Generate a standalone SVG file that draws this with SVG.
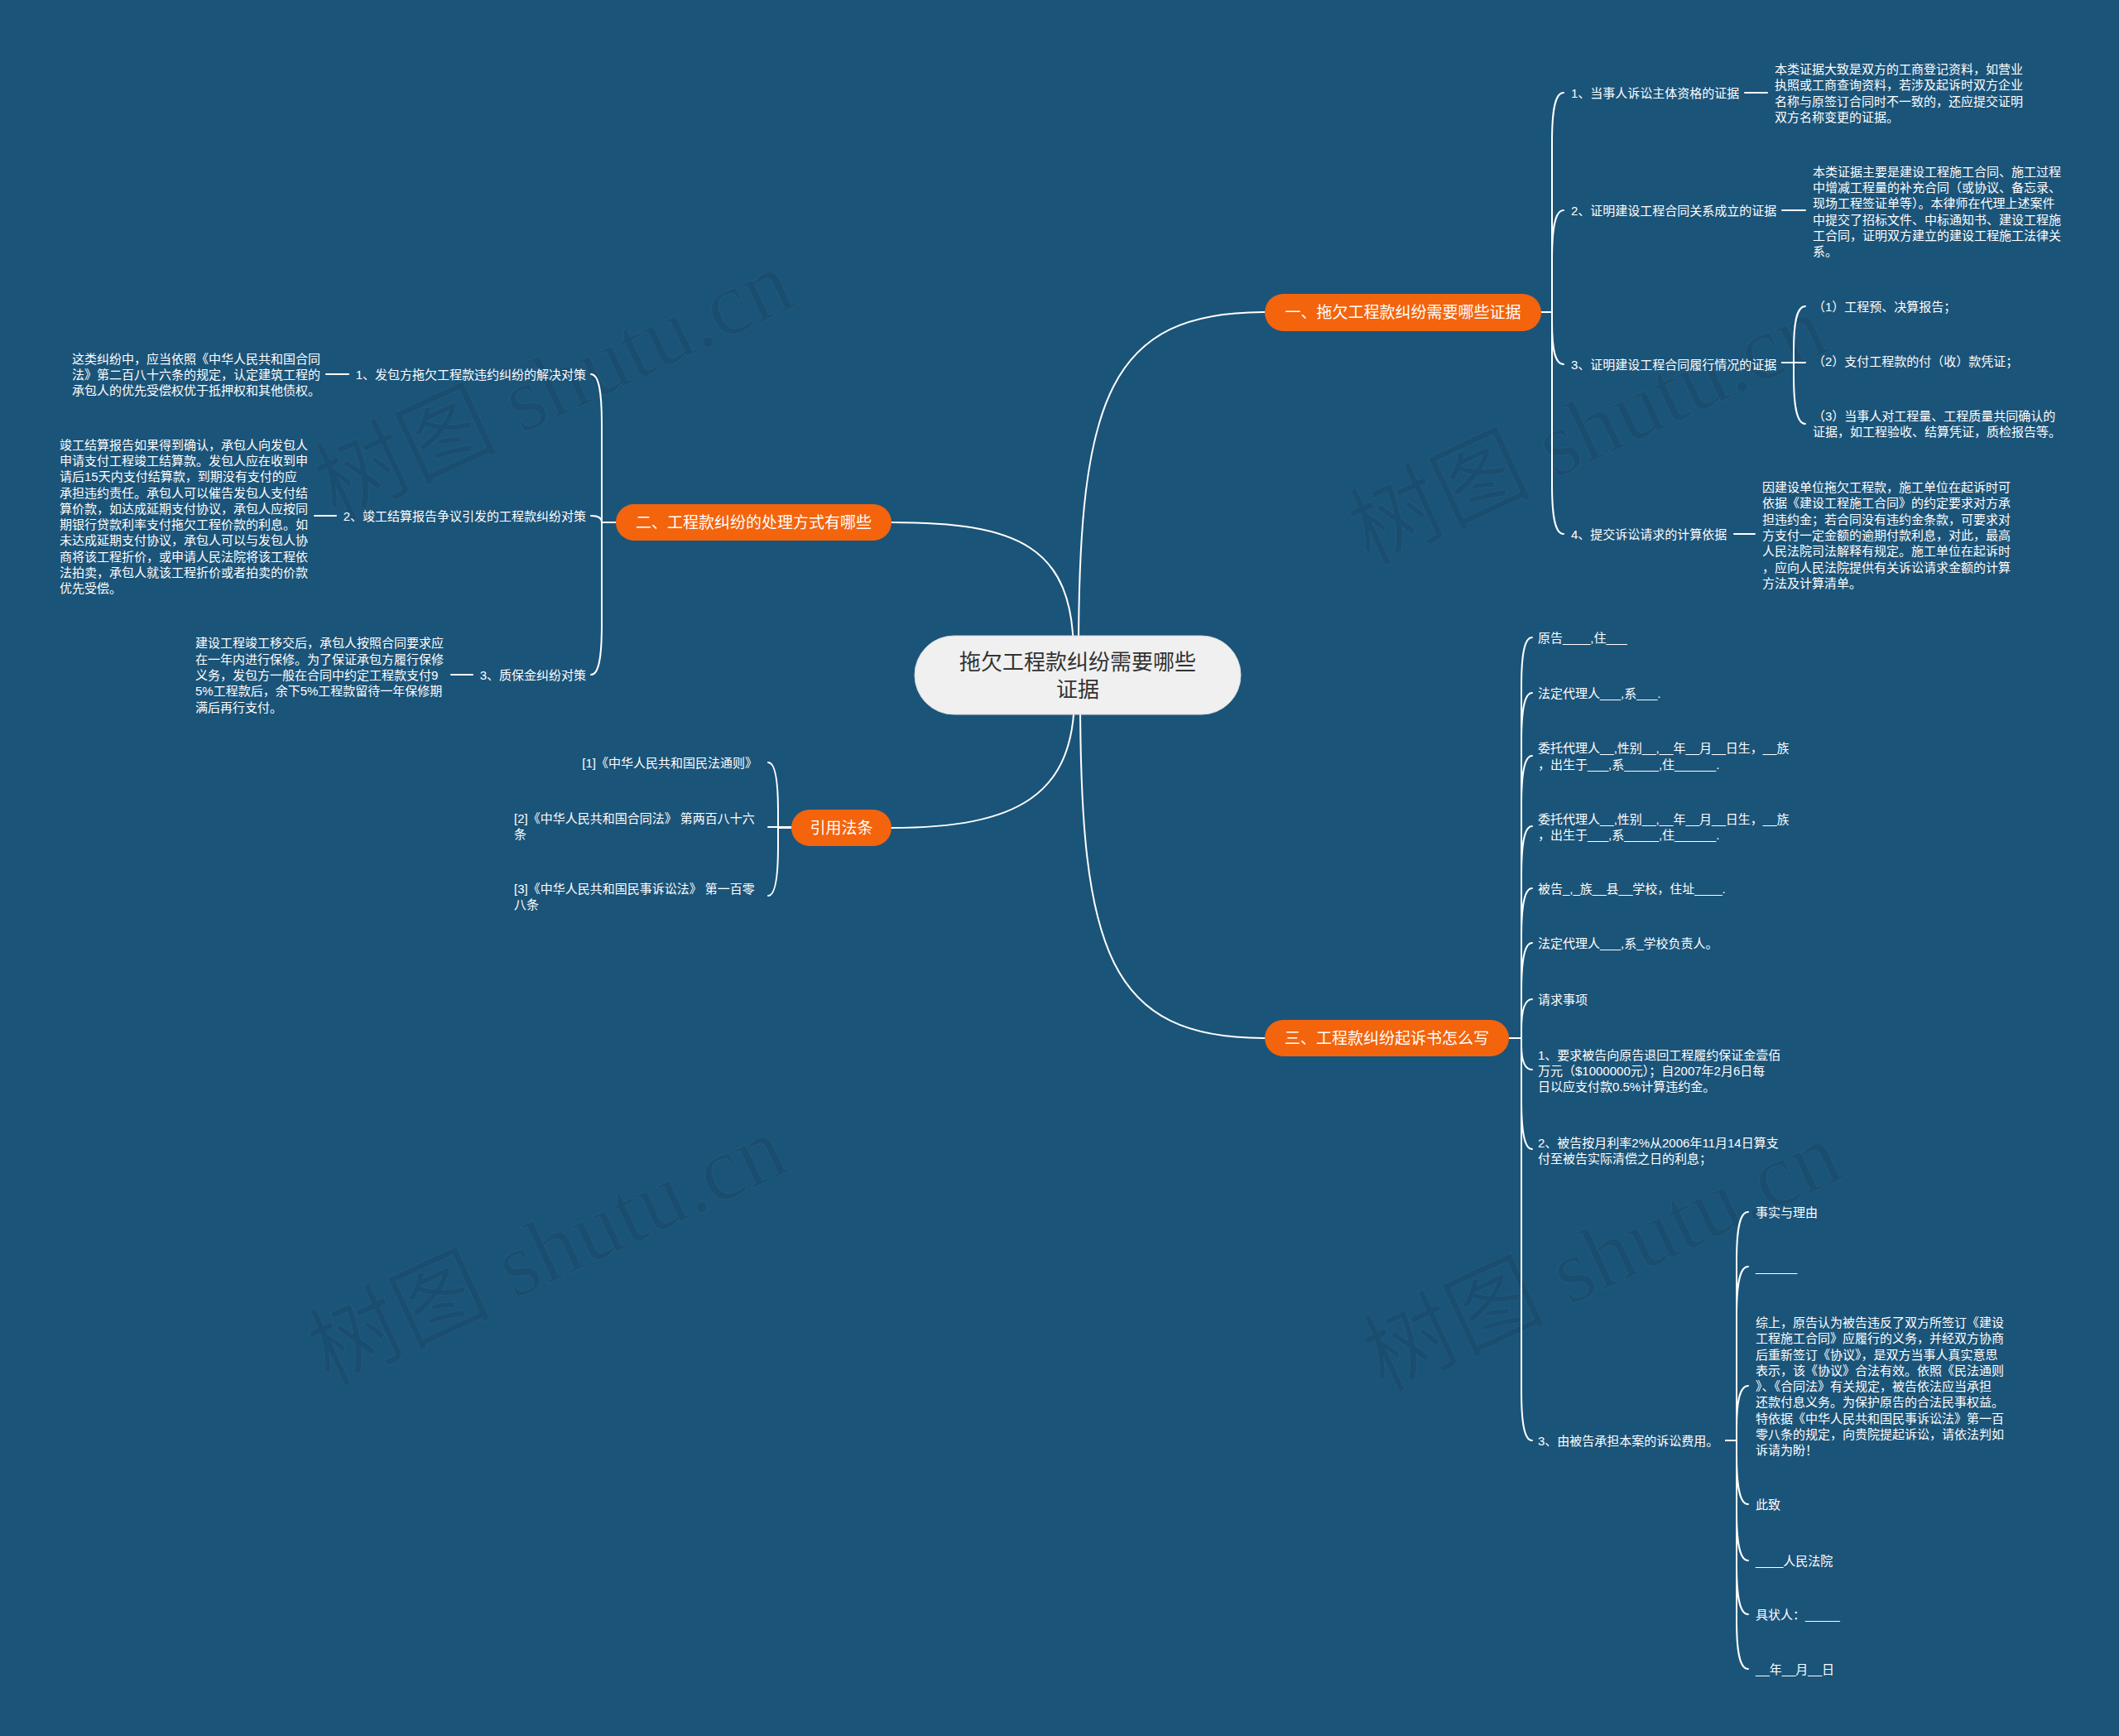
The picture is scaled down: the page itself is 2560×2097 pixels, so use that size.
<svg xmlns="http://www.w3.org/2000/svg" width="2560" height="2097" viewBox="0 0 2560 2097">
<style>
.ln{fill:none;stroke:#ffffff;stroke-width:2;stroke-linecap:round}
.t{font-family:"Liberation Sans","Noto Sans CJK SC",sans-serif;font-size:15px;fill:#ffffff;dominant-baseline:central}
.e{text-anchor:end}
.on{fill:#f3640d}
.ot{font-family:"Liberation Sans","Noto Sans CJK SC",sans-serif;font-size:19px;fill:#ffffff;text-anchor:middle;dominant-baseline:central}
.ct{font-family:"Liberation Sans","Noto Sans CJK SC",sans-serif;font-size:26px;fill:#333333;text-anchor:middle;dominant-baseline:central}
.wm{font-family:"Liberation Serif","Noto Sans CJK SC",serif;font-size:110px;fill:#000000;fill-opacity:0.065;stroke:#ffffff;stroke-opacity:0.045;stroke-width:1;text-anchor:middle;dominant-baseline:central}
</style>
<rect x="0" y="0" width="2560" height="2097" fill="#1b5479"/>
<g id="watermarks">
<text class="wm" x="669" y="465" transform="rotate(-25 669 465)">树图 shutu.cn</text>
<text class="wm" x="1918" y="519" transform="rotate(-25 1918 519)">树图 shutu.cn</text>
<text class="wm" x="661" y="1510" transform="rotate(-25 661 1510)">树图 shutu.cn</text>
<text class="wm" x="1935" y="1518" transform="rotate(-25 1935 1518)">树图 shutu.cn</text>
</g>
<g id="connectors">
<path class="ln" d="M1303,790 C1303,480 1340,377 1528,377"/>
<path class="ln" d="M1297,790 C1297,660 1230,631 1077,631"/>
<path class="ln" d="M1298,840 C1298,960 1230,1000 1077,1000"/>
<path class="ln" d="M1305,840 C1305,1150 1340,1254 1528,1254"/>
<path class="ln" d="M1862,377 H1875 V172 C1875,136 1878,112 1889,112"/>
<path class="ln" d="M1862,377 H1875 V314 C1875,278 1878,254 1889,254"/>
<path class="ln" d="M1862,377 H1875 V390 C1875,420 1878,440 1889,440"/>
<path class="ln" d="M1862,377 H1875 V585 C1875,621 1878,645 1889,645"/>
<path class="ln" d="M2108,112 H2135"/>
<path class="ln" d="M2153,254 H2181"/>
<path class="ln" d="M2095,645 H2120"/>
<path class="ln" d="M2153,438 H2167 V424 C2167,392 2170,370 2181,370"/>
<path class="ln" d="M2153,438 H2181"/>
<path class="ln" d="M2153,438 H2167 V453 C2167,488 2170,512 2181,512"/>
<path class="ln" d="M744,631 H727 V512 C727,476 724,452 714,452"/>
<path class="ln" d="M744,631 H727 C727,626 724,623 714,623"/>
<path class="ln" d="M744,631 H727 V755 C727,791 724,815 714,815"/>
<path class="ln" d="M394,452 H421"/>
<path class="ln" d="M380,623 H406"/>
<path class="ln" d="M545,815 H571"/>
<path class="ln" d="M956,1000 H940 V980 C940,944 937,921 928,921"/>
<path class="ln" d="M956,999 H928"/>
<path class="ln" d="M956,1000 H940 V1022 C940,1058 937,1082 928,1082"/>
<path class="ln" d="M1823,1254 H1838 V830 C1838,794 1841,770 1851,770"/>
<path class="ln" d="M1823,1254 H1838 V897 C1838,861 1841,837 1851,837"/>
<path class="ln" d="M1823,1254 H1838 V973 C1838,937 1841,913 1851,913"/>
<path class="ln" d="M1823,1254 H1838 V1058 C1838,1022 1841,998 1851,998"/>
<path class="ln" d="M1823,1254 H1838 V1133 C1838,1097 1841,1073 1851,1073"/>
<path class="ln" d="M1823,1254 H1838 V1199 C1838,1163 1841,1139 1851,1139"/>
<path class="ln" d="M1823,1254 H1838 V1244 C1838,1222 1841,1207 1851,1207"/>
<path class="ln" d="M1823,1254 H1838 V1262 C1838,1280 1841,1292 1851,1292"/>
<path class="ln" d="M1823,1254 H1838 V1328 C1838,1364 1841,1388 1851,1388"/>
<path class="ln" d="M1823,1254 H1838 V1680 C1838,1716 1841,1740 1851,1740"/>
<path class="ln" d="M2085,1740 H2098 V1524 C2098,1488 2101,1464 2112,1464"/>
<path class="ln" d="M2085,1740 H2098 V1590 C2098,1554 2101,1530 2112,1530"/>
<path class="ln" d="M2085,1740 H2098 V1726 C2098,1696 2101,1674 2112,1674"/>
<path class="ln" d="M2085,1740 H2098 V1757 C2098,1793 2101,1817 2112,1817"/>
<path class="ln" d="M2085,1740 H2098 V1825 C2098,1861 2101,1885 2112,1885"/>
<path class="ln" d="M2085,1740 H2098 V1890 C2098,1926 2101,1950 2112,1950"/>
<path class="ln" d="M2085,1740 H2098 V1956 C2098,1992 2101,2016 2112,2016"/>
</g>
<g id="center">
<rect x="1105" y="768" width="394" height="95" rx="47.5" fill="#f0f0f0" stroke="#d8d8d8" stroke-width="1"/>
<text class="ct" x="1302" y="800">拖欠工程款纠纷需要哪些</text>
<text class="ct" x="1302" y="833">证据</text>
</g>
<g id="n1">
<rect class="on" x="1528" y="355" width="334" height="45" rx="22.5"/>
<text class="ot" x="1695" y="377">一、拖欠工程款纠纷需要哪些证据</text>
</g>
<g id="n2">
<rect class="on" x="744" y="609" width="333" height="44" rx="22"/>
<text class="ot" x="910.5" y="631">二、工程款纠纷的处理方式有哪些</text>
</g>
<g id="n3">
<rect class="on" x="1528" y="1232" width="295" height="44" rx="22"/>
<text class="ot" x="1675.5" y="1254">三、工程款纠纷起诉书怎么写</text>
</g>
<g id="n4">
<rect class="on" x="956" y="978" width="121" height="44" rx="22"/>
<text class="ot" x="1016.5" y="1000">引用法条</text>
</g>
<g id="b1">
<text class="t" x="1898" y="112">1、当事人诉讼主体资格的证据</text>
<text class="t" x="2144"><tspan x="2144" y="83">本类证据大致是双方的工商登记资料，如营业</tspan><tspan x="2144" y="102.3">执照或工商查询资料，若涉及起诉时双方企业</tspan><tspan x="2144" y="121.6">名称与原签订合同时不一致的，还应提交证明</tspan><tspan x="2144" y="141">双方名称变更的证据。</tspan></text>
<text class="t" x="1898" y="254">2、证明建设工程合同关系成立的证据</text>
<text class="t" x="2190"><tspan x="2190" y="206.7">本类证据主要是建设工程施工合同、施工过程</tspan><tspan x="2190" y="226">中增减工程量的补充合同（或协议、备忘录、</tspan><tspan x="2190" y="245.3">现场工程签证单等）。本律师在代理上述案件</tspan><tspan x="2190" y="264.6">中提交了招标文件、中标通知书、建设工程施</tspan><tspan x="2190" y="283.9">工合同，证明双方建立的建设工程施工法律关</tspan><tspan x="2190" y="303.2">系。</tspan></text>
<text class="t" x="1898" y="440">3、证明建设工程合同履行情况的证据</text>
<text class="t" x="2190" y="370">（1）工程预、决算报告；</text>
<text class="t" x="2190" y="436">（2）支付工程款的付（收）款凭证；</text>
<text class="t" x="2190"><tspan x="2190" y="502">（3）当事人对工程量、工程质量共同确认的</tspan><tspan x="2190" y="521.3">证据，如工程验收、结算凭证，质检报告等。</tspan></text>
<text class="t" x="1898" y="645">4、提交诉讼请求的计算依据</text>
<text class="t" x="2129"><tspan x="2129" y="588.1">因建设单位拖欠工程款，施工单位在起诉时可</tspan><tspan x="2129" y="607.4">依据《建设工程施工合同》的约定要求对方承</tspan><tspan x="2129" y="626.7">担违约金；若合同没有违约金条款，可要求对</tspan><tspan x="2129" y="646">方支付一定金额的逾期付款利息，对此，最高</tspan><tspan x="2129" y="665.3">人民法院司法解释有规定。施工单位在起诉时</tspan><tspan x="2129" y="684.6">，应向人民法院提供有关诉讼请求金额的计算</tspan><tspan x="2129" y="703.9">方法及计算清单。</tspan></text>
</g>
<g id="b2">
<text class="t e" x="708" y="452">1、发包方拖欠工程款违约纠纷的解决对策</text>
<text class="t" x="87"><tspan x="87" y="432.7">这类纠纷中，应当依照《中华人民共和国合同</tspan><tspan x="87" y="452">法》第二百八十六条的规定，认定建筑工程的</tspan><tspan x="87" y="471.3">承包人的优先受偿权优于抵押权和其他债权。</tspan></text>
<text class="t e" x="708" y="623">2、竣工结算报告争议引发的工程款纠纷对策</text>
<text class="t" x="72"><tspan x="72" y="536.6">竣工结算报告如果得到确认，承包人向发包人</tspan><tspan x="72" y="555.9">申请支付工程竣工结算款。发包人应在收到申</tspan><tspan x="72" y="575.2">请后15天内支付结算款，到期没有支付的应</tspan><tspan x="72" y="594.5">承担违约责任。承包人可以催告发包人支付结</tspan><tspan x="72" y="613.8">算价款，如达成延期支付协议，承包人应按同</tspan><tspan x="72" y="633.1">期银行贷款利率支付拖欠工程价款的利息。如</tspan><tspan x="72" y="652.4">未达成延期支付协议，承包人可以与发包人协</tspan><tspan x="72" y="671.7">商将该工程折价，或申请人民法院将该工程依</tspan><tspan x="72" y="691">法拍卖，承包人就该工程折价或者拍卖的价款</tspan><tspan x="72" y="710.3">优先受偿。</tspan></text>
<text class="t e" x="708" y="815">3、质保金纠纷对策</text>
<text class="t" x="236"><tspan x="236" y="776.4">建设工程竣工移交后，承包人按照合同要求应</tspan><tspan x="236" y="795.7">在一年内进行保修。为了保证承包方履行保修</tspan><tspan x="236" y="815">义务，发包方一般在合同中约定工程款支付9</tspan><tspan x="236" y="834.3">5%工程款后，余下5%工程款留待一年保修期</tspan><tspan x="236" y="853.6">满后再行支付。</tspan></text>
</g>
<g id="b4">
<text class="t e" x="915" y="921">[1]《中华人民共和国民法通则》</text>
<text class="t" x="621"><tspan x="621" y="988">[2]《中华人民共和国合同法》 第两百八十六</tspan><tspan x="621" y="1007">条</tspan></text>
<text class="t" x="621"><tspan x="621" y="1073">[3]《中华人民共和国民事诉讼法》 第一百零</tspan><tspan x="621" y="1092">八条</tspan></text>
</g>
<g id="b3">
<text class="t" x="1858" y="770">原告____,住___</text>
<text class="t" x="1858" y="837">法定代理人___,系___.</text>
<text class="t" x="1858"><tspan x="1858" y="903.3">委托代理人__,性别__,__年__月__日生，__族</tspan><tspan x="1858" y="922.6">，出生于___,系_____,住______.</tspan></text>
<text class="t" x="1858"><tspan x="1858" y="988.8">委托代理人__,性别__,__年__月__日生，__族</tspan><tspan x="1858" y="1008.1">，出生于___,系_____,住______.</tspan></text>
<text class="t" x="1858" y="1073">被告_,_族__县__学校，住址____.</text>
<text class="t" x="1858" y="1139">法定代理人___,系_学校负责人。</text>
<text class="t" x="1858" y="1207">请求事项</text>
<text class="t" x="1858"><tspan x="1858" y="1273.7">1、要求被告向原告退回工程履约保证金壹佰</tspan><tspan x="1858" y="1293">万元（$1000000元）；自2007年2月6日每</tspan><tspan x="1858" y="1312.3">日以应支付款0.5%计算违约金。</tspan></text>
<text class="t" x="1858"><tspan x="1858" y="1379.8">2、被告按月利率2%从2006年11月14日算支</tspan><tspan x="1858" y="1399.1">付至被告实际清偿之日的利息；</tspan></text>
<text class="t" x="1858" y="1740">3、由被告承担本案的诉讼费用。</text>
<text class="t" x="2121" y="1464">事实与理由</text>
<text class="t" x="2121" y="1530">______</text>
<text class="t" x="2121"><tspan x="2121" y="1597">综上，原告认为被告违反了双方所签订《建设</tspan><tspan x="2121" y="1616.2">工程施工合同》应履行的义务，并经双方协商</tspan><tspan x="2121" y="1635.5">后重新签订《协议》，是双方当事人真实意思</tspan><tspan x="2121" y="1654.7">表示，该《协议》合法有效。依照《民法通则</tspan><tspan x="2121" y="1674">》、《合同法》有关规定，被告依法应当承担</tspan><tspan x="2121" y="1693.2">还款付息义务。为保护原告的合法民事权益。</tspan><tspan x="2121" y="1712.5">特依据《中华人民共和国民事诉讼法》第一百</tspan><tspan x="2121" y="1731.7">零八条的规定，向贵院提起诉讼，请依法判如</tspan><tspan x="2121" y="1751">诉请为盼！</tspan></text>
<text class="t" x="2121" y="1817">此致</text>
<text class="t" x="2121" y="1885">____人民法院</text>
<text class="t" x="2121" y="1950">具状人：_____</text>
<text class="t" x="2121" y="2016">__年__月__日</text>
</g>
</svg>
